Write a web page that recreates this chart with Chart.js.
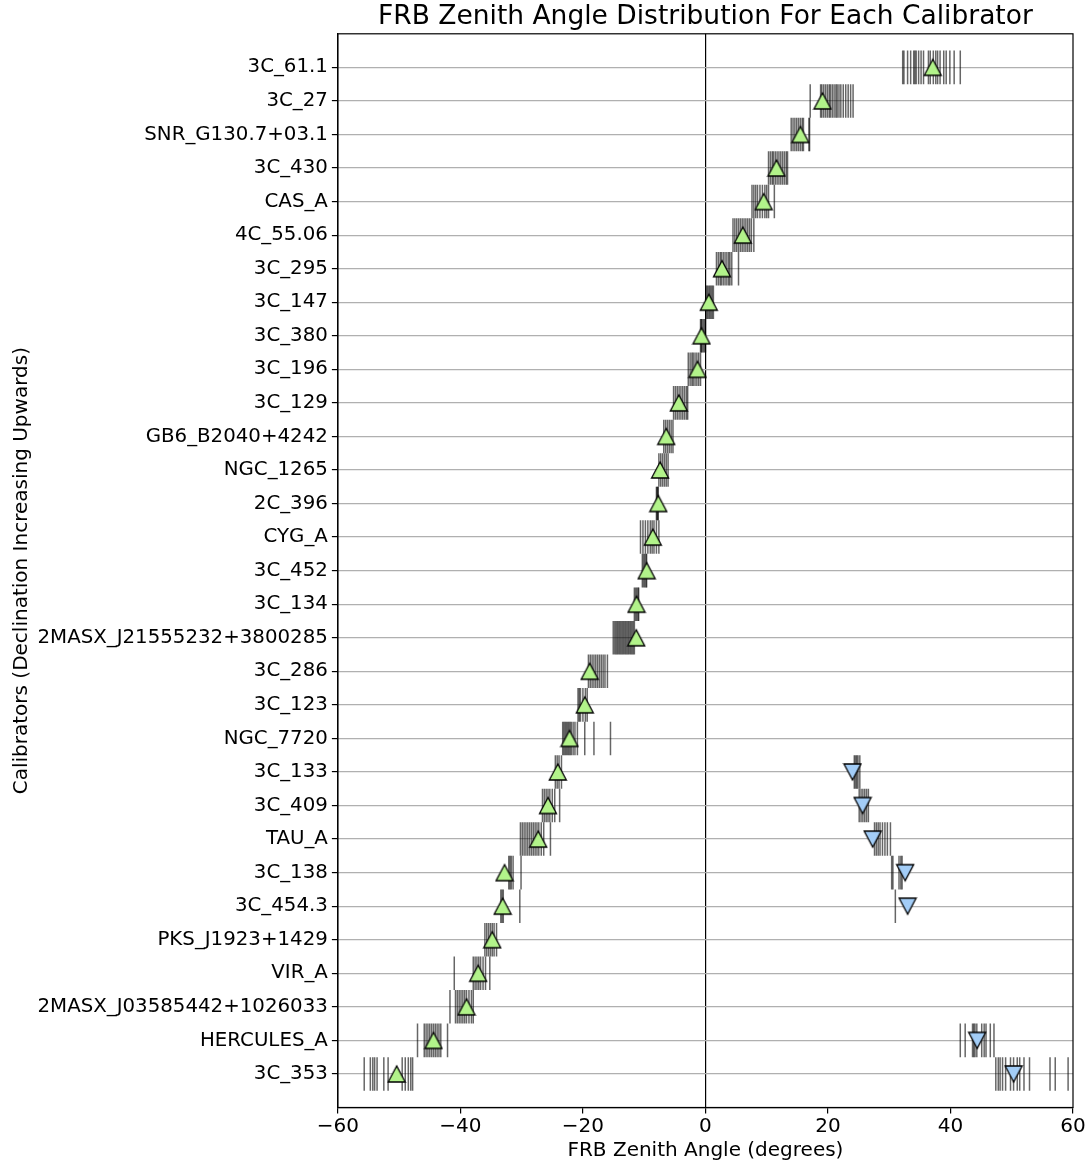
<!DOCTYPE html>
<html>
<head>
<meta charset="utf-8">
<script src="https://cdn.jsdelivr.net/npm/chart.js@4.4.0/dist/chart.umd.min.js"></script>
<style>
  html, body { margin: 0; padding: 0; background: #fff; }
  #wrap { width: 1090px; height: 1167px; }
</style>
</head>
<body>
<div id="wrap"><canvas id="zenithChart" width="1090" height="1167"></canvas></div>
<script>
// calibrators, top row first (declination increasing upwards)
const calibrators = [
    '3C_61.1', '3C_27', 'SNR_G130.7+03.1', '3C_430', 'CAS_A', '4C_55.06', '3C_295',
    '3C_147', '3C_380', '3C_196', '3C_129', 'GB6_B2040+4242', 'NGC_1265', '2C_396',
    'CYG_A', '3C_452', '3C_134', '2MASX_J21555232+3800285', '3C_286', '3C_123',
    'NGC_7720', '3C_133', '3C_409', 'TAU_A', '3C_138', '3C_454.3', 'PKS_J1923+1429',
    'VIR_A', '2MASX_J03585442+1026033', 'HERCULES_A', '3C_353'
];

// zenith angle of each calibrator at upper transit (green) and lower/other side (blue)
const upAngles = [
    37.1, 19.1, 15.5, 11.6, 9.5, 6.1, 2.7, 0.55, -0.65, -1.3, -4.35, -6.4, -7.4, -7.7,
    -8.6, -9.6, -11.25, -11.3, -18.9, -19.7, -22.2, -24.1, -25.7, -27.3, -32.8, -33.1,
    -34.8, -37.1, -39.0, -44.4, -50.4
];
const downAngles = [
    null, null, null, null, null, null, null, null, null, null, null, null, null, null,
    null, null, null, null, null, null, null, 24.0, 25.65, 27.3, 32.6, 33.0,
    null, null, null, 44.35, 50.3
];

// FRB zenith angles seen for each calibrator (degrees)
const frbAngles = [
    [32.2, 32.4, 33.0, 33.5, 34.0, 34.2, 34.4, 34.8, 35.2, 35.6, 36.4, 36.7, 37.2, 37.6, 37.9, 38.3, 38.9, 39.3, 39.9, 40.6, 41.6],
    [17.1, 18.8, 19.0, 19.3, 19.6, 19.9, 20.2, 20.4, 20.7, 21.0, 21.3, 21.5, 21.8, 22.1, 22.5, 22.9, 23.3, 23.7, 24.1],
    [14.0, 14.3, 14.6, 14.9, 15.2, 15.5, 15.8, 16.0, 16.9, 17.0],
    [10.3, 10.6, 10.9, 11.1, 11.4, 11.7, 12.0, 12.3, 12.6, 12.9, 13.2, 13.4],
    [7.6, 7.9, 8.2, 8.5, 8.9, 9.3, 9.7, 10.0, 10.3, 11.25],
    [4.5, 4.8, 5.1, 5.4, 5.7, 6.0, 6.3, 6.6, 6.9, 7.2, 7.5, 7.9],
    [1.8, 2.1, 2.4, 2.6, 2.9, 3.2, 3.5, 3.8, 4.0, 4.3, 5.4],
    [0.1, 0.3, 0.5, 0.7, 0.9, 1.1, 1.3],
    [-0.8, -0.7, -0.6, -0.4, -0.2, 0.0],
    [-2.8, -2.5, -2.2, -2.0, -1.7, -1.4, -1.1, -0.8],
    [-5.2, -4.9, -4.6, -4.3, -4.0, -3.7, -3.4, -3.1, -2.9],
    [-6.8, -6.5, -6.2, -5.9, -5.6, -5.3],
    [-7.6, -7.3, -7.0, -6.7, -6.4, -6.1],
    [-8.0, -7.9, -7.8, -7.7],
    [-10.6, -10.2, -9.8, -9.4, -9.0, -8.7, -8.4, -8.0, -7.6],
    [-10.3, -10.1, -9.9, -9.7, -9.6],
    [-11.6, -11.4, -11.2, -11.0, -10.9],
    [-15.05, -14.8, -14.6, -14.4, -14.2, -14.0, -13.8, -13.6, -13.4, -13.2, -13.0, -12.8, -12.6, -12.4, -12.2, -12.0, -11.8, -11.6],
    [-19.1, -18.8, -18.5, -18.2, -17.9, -17.6, -17.3, -17.0, -16.7, -16.4, -16.0],
    [-20.8, -20.6, -20.4, -20.0, -19.6, -19.3],
    [-23.3, -23.1, -22.9, -22.7, -22.5, -22.3, -22.1, -21.9, -21.6, -21.3, -20.9, -19.7, -18.2, -15.5],
    [-24.5, -24.2, -23.9, -23.5, 24.3, 24.5, 24.7, 24.9, 25.2],
    [-26.6, -26.3, -26.0, -25.7, -25.4, -25.0, -24.6, -23.8, 25.1, 25.4, 25.7, 26.0, 26.3, 26.6],
    [-30.2, -29.9, -29.6, -29.3, -29.0, -28.7, -28.4, -28.1, -27.8, -27.5, -27.2, -26.8, -26.4, -25.3, 27.6, 27.9, 28.2, 28.5, 28.9, 29.3, 29.7, 30.2],
    [-32.1, -31.9, -31.7, -31.4, -30.1, 30.4, 30.6, 31.6, 31.9, 32.1],
    [-33.4, -33.2, -33.0, -30.3, 31.0],
    [-36.0, -35.7, -35.4, -35.1, -34.8, -34.5, -34.1],
    [-41.0, -37.9, -37.6, -37.3, -37.0, -36.7, -36.3, -35.9, -35.2],
    [-41.7, -40.8, -40.5, -40.2, -39.9, -39.6, -39.3, -39.0, -38.6, -38.2, -37.9],
    [-47.0, -45.9, -45.6, -45.3, -45.0, -44.7, -44.4, -44.1, -43.8, -43.5, -43.2, -42.1, 41.6, 42.4, 43.6, 43.8, 44.0, 44.3, 45.1, 45.5, 45.8, 46.5, 47.1],
    [-55.7, -54.7, -54.3, -54.0, -53.6, -52.5, -51.8, -49.5, -49.0, -48.5, -48.1, -47.8, 47.4, 47.8, 48.1, 48.5, 49.0, 49.8, 50.3, 50.9, 51.3, 52.0, 52.9, 56.25, 57.1, 59.2]
];

const xTicks = [-60, -40, -20, 0, 20, 40, 60];

const FONT = "'DejaVu Sans', 'Liberation Sans', sans-serif";

// matplotlib style triangles, drawn once on small canvases
function makeTriangle(fill, pointDown) {
    const c = document.createElement('canvas');
    c.width = 20;
    c.height = 20;
    const g = c.getContext('2d');
    g.beginPath();
    if (pointDown) {
        g.moveTo(10, 18);
        g.lineTo(1.5, 2);
        g.lineTo(18.5, 2);
    } else {
        g.moveTo(10, 2);
        g.lineTo(1.5, 18);
        g.lineTo(18.5, 18);
    }
    g.closePath();
    g.fillStyle = fill;
    g.fill();
    g.lineWidth = 1.3;
    g.strokeStyle = '#000';
    g.lineJoin = 'miter';
    g.stroke();
    return c;
}

const upTri = makeTriangle('#b2f38a', false);
const downTri = makeTriangle('#a3cdf7', true);

const frbPoints = [];
frbAngles.forEach((row, i) => {
    row.forEach(a => frbPoints.push({ x: a, y: i }));
});
const upPoints = upAngles.map((a, i) => ({ x: a, y: i }));
const downPoints = [];
downAngles.forEach((a, i) => {
    if (a !== null) downPoints.push({ x: a, y: i });
});

// half a row in pixels, so each FRB tick fills its row
function halfRow(ctx) {
    const s = ctx.chart.scales.y;
    if (!s) return 16;
    return Math.abs(s.getPixelForValue(1) - s.getPixelForValue(0)) / 2;
}

const frame = {
    id: 'frame',
    afterDraw(chart) {
        const a = chart.chartArea;
        const c = chart.ctx;
        c.save();
        c.strokeStyle = '#000';
        c.lineWidth = 1.2;
        c.strokeRect(a.left, a.top, a.right - a.left, a.bottom - a.top);
        c.restore();
    }
};

const ctx = document.getElementById('zenithChart').getContext('2d');
const zenithChart = new Chart(ctx, {
    type: 'scatter',
    data: {
        datasets: [
            {
                label: 'Calibrator (upper)',
                data: upPoints,
                pointStyle: upTri,
                radius: 10,
                hoverRadius: 10
            },
            {
                label: 'Calibrator (lower)',
                data: downPoints,
                pointStyle: downTri,
                radius: 10,
                hoverRadius: 10
            },
            {
                label: 'FRBs',
                data: frbPoints,
                pointStyle: 'line',
                rotation: 90,
                radius: halfRow,
                hoverRadius: halfRow,
                borderColor: 'rgba(0, 0, 0, 0.6)',
                borderWidth: 1.5,
                hoverBorderWidth: 1.5
            }
        ]
    },
    options: {
        responsive: false,
        animation: false,
        events: [],
        layout: {
            padding: { left: 2, right: 17, top: 0, bottom: 0 }
        },
        plugins: {
            legend: { display: false },
            tooltip: { enabled: false },
            title: {
                display: true,
                fullSize: false,
                text: 'FRB Zenith Angle Distribution For Each Calibrator',
                color: '#000',
                font: { family: FONT, size: 26.5, weight: 'normal' },
                padding: { top: 1, bottom: 1 }
            }
        },
        scales: {
            x: {
                type: 'linear',
                min: -60,
                max: 60,
                afterBuildTicks: axis => {
                    axis.ticks = xTicks.map(v => ({ value: v }));
                },
                ticks: {
                    color: '#000',
                    font: { family: FONT, size: 20 },
                    padding: 1.5,
                    callback: v => (v < 0 ? '\u2212' + Math.abs(v) : String(v))
                },
                grid: {
                    color: c => (c.tick && c.tick.value === 0 ? '#000' : 'rgba(0,0,0,0)'),
                    lineWidth: 1.2,
                    drawTicks: true,
                    tickLength: 6,
                    tickColor: '#000',
                    tickWidth: 1.2
                },
                border: { color: '#000', width: 1.2 },
                title: {
                    display: true,
                    text: 'FRB Zenith Angle (degrees)',
                    color: '#000',
                    font: { family: FONT, size: 20, lineHeight: 1 },
                    padding: { top: 0.5, bottom: 6 }
                }
            },
            y: {
                type: 'linear',
                min: -1,
                max: 31,
                reverse: true,
                afterBuildTicks: axis => {
                    axis.ticks = calibrators.map((_, i) => ({ value: i }));
                },
                ticks: {
                    color: '#000',
                    font: { family: FONT, size: 19.8 },
                    padding: 4,
                    autoSkip: false,
                    callback: v => calibrators[v]
                },
                grid: {
                    color: '#b0b0b0',
                    lineWidth: 1.2,
                    drawTicks: true,
                    tickLength: 6,
                    tickColor: '#000',
                    tickWidth: 1.2
                },
                border: { color: '#000', width: 1.2 },
                title: {
                    display: true,
                    text: 'Calibrators (Declination Increasing Upwards)',
                    color: '#000',
                    font: { family: FONT, size: 20 },
                    padding: { top: 7.5, bottom: 0 }
                }
            }
        }
    },
    plugins: [frame]
});
</script>
</body>
</html>
